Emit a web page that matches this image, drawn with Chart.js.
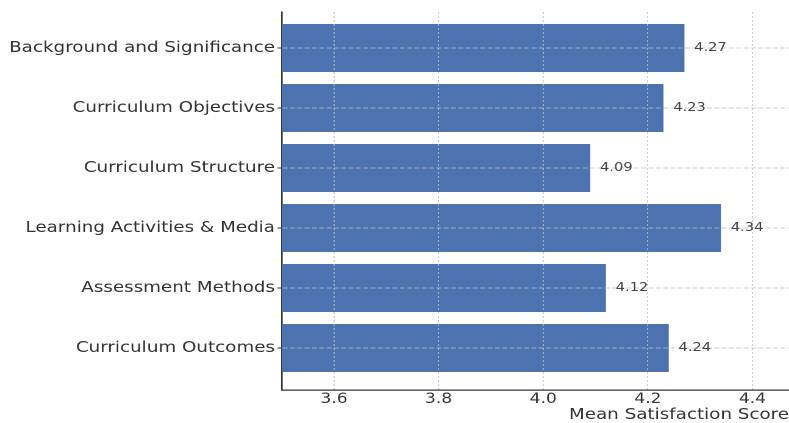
<!DOCTYPE html>
<html>
<head>
<meta charset="utf-8">
<script src="https://cdn.jsdelivr.net/npm/chart.js@4.4.1/dist/chart.umd.min.js"></script>
<style>
  html, body { margin: 0; padding: 0; background: #fff; overflow: hidden; }
  /* the reference is stretched sideways, so draw narrower and widen it */
  #wrap { width: 647px; height: 423px; transform: scaleX(1.2195); transform-origin: 0 0; }
</style>
</head>
<body>
<div id="wrap"><canvas id="scoreChart"></canvas></div>
<script>
// Chart values
var categories = ['Background and Significance', 'Curriculum Objectives', 'Curriculum Structure',
  'Learning Activities & Media', 'Assessment Methods', 'Curriculum Outcomes'];
var meanScores = [4.27, 4.23, 4.09, 4.34, 4.12, 4.24];
var xTicks = [3.6, 3.8, 4.0, 4.2, 4.4];

var font = "'DejaVu Sans', sans-serif";
var gridColor = 'rgba(200,200,200,0.7)';

// grid goes on top of the bars like in the reference
var gridOnTop = {
  id: 'gridOnTop',
  afterDatasetsDraw: function(chart) {
    var ctx = chart.ctx;
    ctx.save();
    chart.scales.x.drawGrid(chart.chartArea);
    chart.scales.y.drawGrid(chart.chartArea);
    ctx.restore();
  }
};

// value labels at the bar ends
var valueLabels = {
  id: 'valueLabels',
  afterDatasetsDraw: function(chart) {
    var ctx = chart.ctx;
    var meta = chart.getDatasetMeta(0);
    ctx.save();
    ctx.font = '12px ' + font;
    ctx.fillStyle = '#444';
    ctx.textAlign = 'left';
    ctx.textBaseline = 'middle';
    meta.data.forEach(function(bar, i) {
      ctx.fillText(meanScores[i].toFixed(2), bar.x + 8, bar.y);
    });
    ctx.restore();
  }
};

var ctx = document.getElementById('scoreChart').getContext('2d');
var scoreChart = new Chart(ctx, {
  type: 'bar',
  data: {
    datasets: [{
      label: 'Mean Satisfaction Score',
      data: meanScores.map(function(v, i) { return { x: v, y: i }; }),
      backgroundColor: '#4c72b0',
      borderWidth: 0,
      barPercentage: 0.8,
      categoryPercentage: 1.0
    }]
  },
  options: {
    indexAxis: 'y',
    responsive: true,
    maintainAspectRatio: false,
    animation: false,
    devicePixelRatio: 2,
    layout: { padding: { top: 12, right: 0, bottom: 0, left: 0 } },
    plugins: {
      legend: { display: false },
      tooltip: { enabled: false }
    },
    scales: {
      x: {
        type: 'linear',
        min: 3.5,
        max: 4.47,
        afterBuildTicks: function(scale) {
          scale.ticks = xTicks.map(function(v) { return { value: v }; });
        },
        afterFit: function(scale) { scale.height = 33; },
        ticks: {
          font: { family: font, size: 14 },
          color: '#333',
          padding: 1,
          callback: function(v) { return v.toFixed(1); }
        },
        grid: {
          color: gridColor,
          lineWidth: 1,
          drawTicks: false,
          tickLength: 0
        },
        border: { color: '#333', width: 1.3, dash: [2, 2] },
        title: {
          display: true,
          text: 'Mean Satisfaction Score',
          align: 'end',
          font: { family: font, size: 15 },
          color: '#333',
          padding: { top: 0, bottom: -1 }
        }
      },
      y: {
        type: 'linear',
        reverse: true,
        offset: false,
        min: -0.6,
        max: 5.7,
        afterBuildTicks: function(scale) {
          scale.ticks = categories.map(function(c, i) { return { value: i }; });
        },
        afterFit: function(scale) { scale.width = 231; },
        ticks: {
          font: { family: font, size: 15 },
          color: '#333',
          padding: 2,
          callback: function(v) { return categories[v]; }
        },
        grid: {
          offset: false,
          color: gridColor,
          lineWidth: 1,
          tickColor: '#333',
          tickLength: 3.5,
          tickBorderDash: []
        },
        border: { color: '#333', width: 1.3, dash: [4, 2] }
      }
    }
  },
  plugins: [gridOnTop, valueLabels]
});
</script>
</body>
</html>
